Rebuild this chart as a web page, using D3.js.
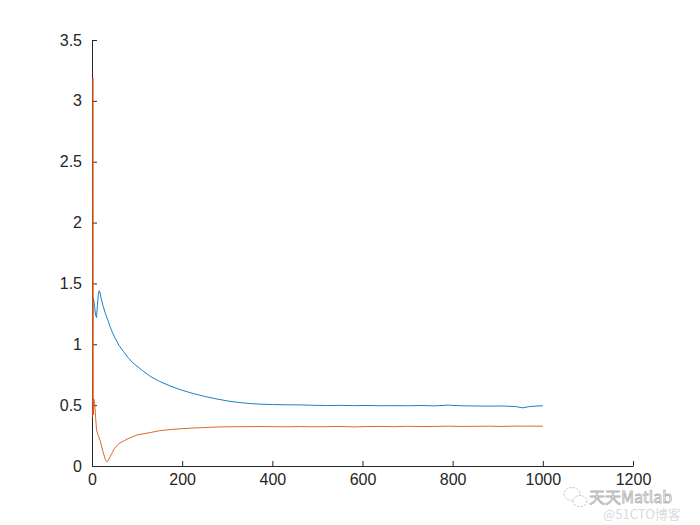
<!DOCTYPE html>
<html>
<head>
<meta charset="utf-8">
<script src="https://cdn.jsdelivr.net/npm/d3@7"></script>
<style>
  html, body { margin: 0; padding: 0; background: #fff; }
  svg { display: block; }
</style>
</head>
<body>
<svg id="chart" width="700" height="525"></svg>
<script>
// ---- data ----
const xSteps = [1,2,3,4,5,6,8,10,12,14,16,18,20,25,30,33,36,40,45,50,60,70,80,90,100,115,130,150,175,200,225,250,275,300,325,350,375,400,430,460,490,520,550,580,610,640,670,700,730,760,790,820,850,880,910,940,955,970,985,1000];
const blueValues = [0.95,1.34,1.38,1.36,1.33,1.30,1.24,1.22,1.32,1.41,1.44,1.42,1.38,1.31,1.25,1.22,1.19,1.145,1.10,1.06,0.99,0.94,0.89,0.85,0.82,0.775,0.735,0.695,0.655,0.622,0.595,0.572,0.552,0.535,0.522,0.513,0.508,0.505,0.503,0.502,0.499,0.497,0.498,0.496,0.497,0.495,0.496,0.495,0.497,0.494,0.500,0.495,0.493,0.492,0.493,0.488,0.478,0.488,0.492,0.495];
const orangeValues = [0.40,3.19,0.42,0.55,0.53,0.51,0.40,0.30,0.27,0.25,0.23,0.21,0.18,0.11,0.05,0.035,0.045,0.076,0.11,0.145,0.186,0.205,0.225,0.24,0.255,0.265,0.275,0.29,0.30,0.307,0.312,0.316,0.32,0.322,0.323,0.323,0.324,0.323,0.322,0.324,0.322,0.323,0.325,0.321,0.324,0.325,0.323,0.326,0.324,0.325,0.327,0.325,0.326,0.327,0.325,0.328,0.327,0.328,0.327,0.327];
const xTicks = [0,200,400,600,800,1000,1200];
const yTicks = [0,0.5,1,1.5,2,2.5,3,3.5];
const seriesColors = ["#0072BD", "#D95319"];

// ---- layout ----
const svg = d3.select("#chart");
const mLeft = 92, mRight = 633, mTop = 40, mBottom = 466;

const x = d3.scaleLinear().domain([0, 1200]).range([mLeft, mRight]);
const y = d3.scaleLinear().domain([0, 3.5]).range([mBottom, mTop]);

const fontFam = "'Liberation Sans', Arial, Helvetica, sans-serif";
const axisColor = "#262626";

// x axis
const xAxis = svg.append("g")
  .attr("transform", `translate(0,${mBottom})`)
  .call(d3.axisBottom(x).tickValues(xTicks).tickFormat(d3.format("d")).tickSizeInner(-5).tickSizeOuter(0).tickPadding(8));
// y axis
const yAxis = svg.append("g")
  .attr("transform", `translate(${mLeft},0)`)
  .call(d3.axisLeft(y).tickValues(yTicks).tickFormat(d => String(d)).tickSizeInner(-5).tickSizeOuter(0).tickPadding(10));

[xAxis, yAxis].forEach(g => {
  g.select(".domain").attr("stroke", axisColor).attr("stroke-width", 1);
  g.selectAll(".tick line").attr("stroke", axisColor).attr("stroke-width", 1);
  g.selectAll(".tick text").attr("fill", axisColor).style("font-family", fontFam).style("font-size", "16px");
});

// lines
const data = [blueValues, orangeValues];
const line = d3.line().x((d, i) => x(xSteps[i])).y(d => y(d));
data.forEach((vals, k) => {
  svg.append("path")
    .datum(vals)
    .attr("fill", "none")
    .attr("stroke", seriesColors[k])
    .attr("stroke-width", 0.9)
    .attr("stroke-linejoin", "round")
    .attr("d", line);
});

// watermark
const wm = svg.append("g").attr("opacity", 0.75);
wm.append("text")
  .attr("x", 589).attr("y", 503)
  .style("font-family", "'Noto Sans CJK SC', sans-serif")
  .style("font-size", "16px")
  .attr("fill", "#ffffff").attr("stroke", "#9a9a9a").attr("stroke-width", 0.8)
  .text("天天Matlab");
wm.append("text")
  .attr("x", 603).attr("y", 519)
  .style("font-family", "'Noto Sans CJK SC', sans-serif")
  .style("font-size", "13px")
  .attr("fill", "#cfcfcf")
  .text("@51CTO博客");
// wechat-like bubbles
wm.append("ellipse").attr("cx", 572).attr("cy", 494).attr("rx", 8).attr("ry", 6.5)
  .attr("fill", "none").attr("stroke", "#aaa").attr("stroke-dasharray", "2,1.5");
wm.append("ellipse").attr("cx", 580).attr("cy", 501).attr("rx", 7).attr("ry", 5.5)
  .attr("fill", "#fff").attr("stroke", "#aaa").attr("stroke-dasharray", "2,1.5");
</script>
</body>
</html>
